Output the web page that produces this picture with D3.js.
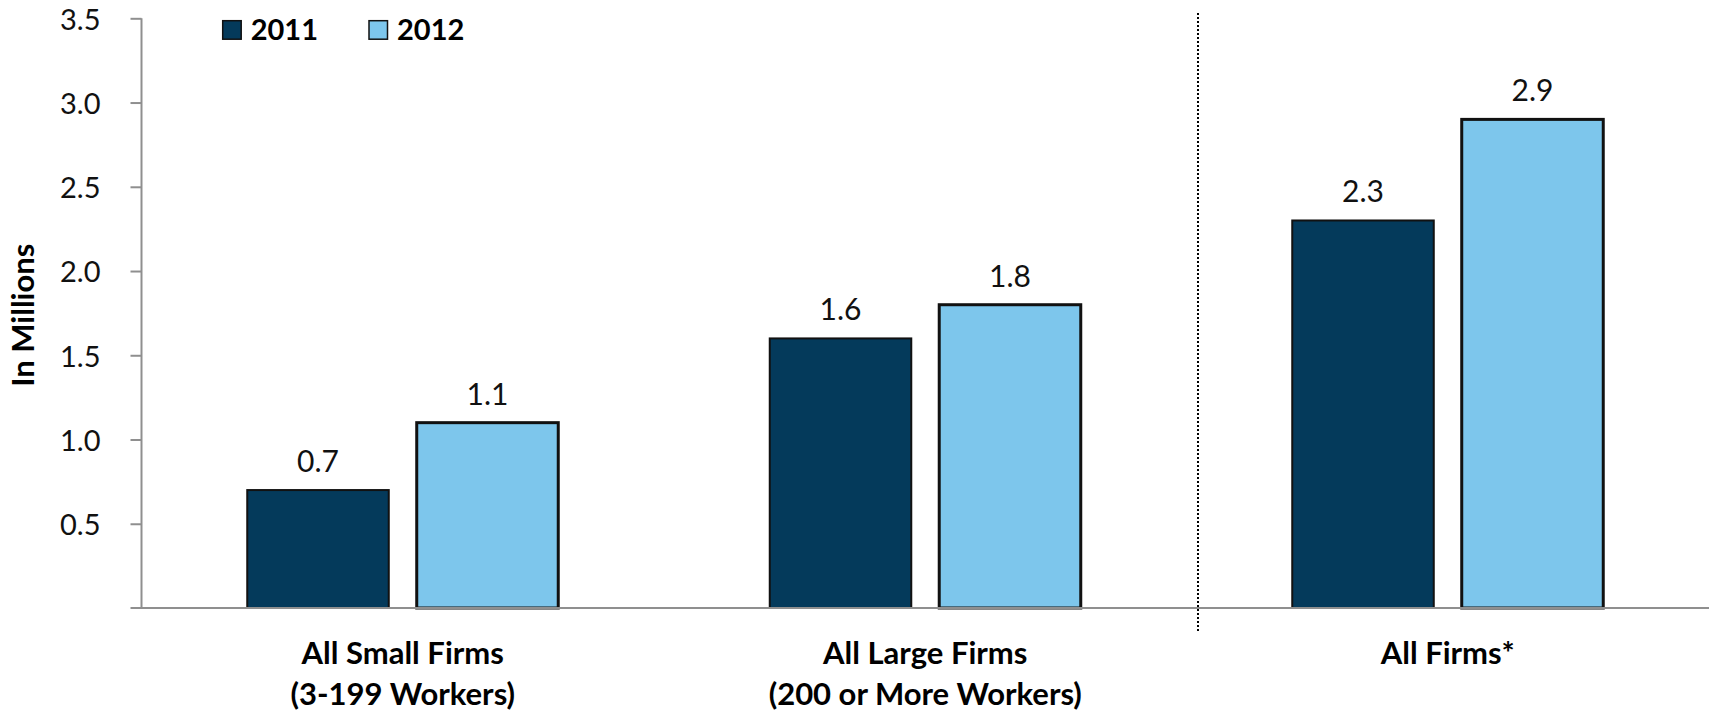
<!DOCTYPE html>
<html>
<head>
<meta charset="utf-8">
<script src="https://cdn.jsdelivr.net/npm/d3@7"></script>
<style>
  html, body { margin: 0; padding: 0; background: #fff; }
  svg { display: block; font-family: Lato, "Open Sans", sans-serif; }
</style>
</head>
<body>
<svg id="chart" width="1710" height="714"></svg>
<script>
// Firm groups (two-line labels) and yearly values, in millions
const categories = ["All Small Firms", "All Large Firms", "All Firms*"];
const categorySubLabels = ["(3-199 Workers)", "(200 or More Workers)", ""];
const years = ["2011", "2012"];
const values2011 = [0.7, 1.6, 2.3];
const values2012 = [1.1, 1.8, 2.9];
const yTicks = [0.5, 1.0, 1.5, 2.0, 2.5, 3.0, 3.5];

const colors = { "2011": "#043a5b", "2012": "#7dc6ec" };
const strokeW = { "2011": 2, "2012": 3 };

const svg = d3.select("#chart");
const W = 1710, H = 714;
const m = { left: 141.5, right: 1, top: 18.3, bottom: 106 };

const x0 = d3.scaleBand().domain(categories).range([m.left, W - m.right]).padding(0);
const groupW = 311;
const x1 = d3.scaleBand().domain(years)
  .range([x0.bandwidth() / 2 - groupW / 2, x0.bandwidth() / 2 + groupW / 2])
  .paddingInner(0.165);
const y = d3.scaleLinear().domain([0, 3.5]).range([H - m.bottom, m.top]);

const rows = categories.map((c, i) => ({
  cat: c, sub: categorySubLabels[i],
  vals: [{ year: "2011", v: values2011[i] }, { year: "2012", v: values2012[i] }]
}));

// Y axis
const yAxis = svg.append("g")
  .attr("transform", `translate(${m.left},0)`)
  .call(d3.axisLeft(y).tickValues(yTicks).tickFormat(d3.format(".1f")).tickSize(11).tickSizeOuter(0).tickPadding(30));
yAxis.select(".domain").attr("stroke", "#8f8f8f").attr("stroke-width", 2)
  .attr("d", `M0,${y(3.5)}V${y(0)}`);
yAxis.selectAll(".tick line").attr("stroke", "#8f8f8f").attr("stroke-width", 2);
yAxis.selectAll(".tick text").attr("font-size", 29).attr("fill", "#111")
  .attr("dy", "0.37em")
  .attr("font-family", "Lato, sans-serif");

// Y axis title
svg.append("text")
  .attr("transform", `translate(34,${(y(3.5) + y(0)) / 2 + 2}) rotate(-90)`)
  .attr("text-anchor", "middle")
  .attr("font-size", 31).attr("font-weight", 700).attr("fill", "#000")
  .text("In Millions");

// Bars
const groups = svg.append("g").selectAll("g").data(rows).join("g")
  .attr("transform", d => `translate(${x0(d.cat)},0)`);

groups.selectAll("rect").data(d => d.vals).join("rect")
  .attr("x", d => x1(d.year))
  .attr("y", d => y(d.v))
  .attr("width", x1.bandwidth())
  .attr("height", d => y(0) - y(d.v))
  .attr("fill", d => colors[d.year])
  .attr("stroke", "#111")
  .attr("stroke-width", d => strokeW[d.year]);

groups.selectAll("text.val").data(d => d.vals).join("text")
  .attr("class", "val")
  .attr("x", d => x1(d.year) + x1.bandwidth() / 2)
  .attr("y", d => y(d.v) - 18)
  .attr("text-anchor", "middle")
  .attr("font-size", 30).attr("fill", "#111")
  .text(d => d3.format(".1f")(d.v));

// Baseline (category axis)
svg.append("line")
  .attr("x1", m.left - 11).attr("x2", W - m.right)
  .attr("y1", y(0)).attr("y2", y(0))
  .attr("stroke", "#8f8f8f").attr("stroke-width", 2);

// Category labels
const catLabels = svg.append("g").selectAll("text").data(rows).join("text")
  .attr("text-anchor", "middle")
  .attr("font-size", 31).attr("font-weight", 700).attr("fill", "#000");
catLabels.append("tspan")
  .attr("x", d => x0(d.cat) + x0.bandwidth() / 2)
  .attr("y", y(0) + 56)
  .text(d => d.cat);
catLabels.append("tspan")
  .attr("x", d => x0(d.cat) + x0.bandwidth() / 2)
  .attr("y", y(0) + 97)
  .text(d => d.sub);

// Dotted separator before the all-firms group
const sepX = x0("All Firms*") + 11.5;
svg.append("line")
  .attr("x1", sepX).attr("x2", sepX)
  .attr("y1", 13).attr("y2", y(0) + 23)
  .attr("stroke", "#000").attr("stroke-width", 2)
  .attr("stroke-dasharray", "2,2");

// Legend
const legendX = [222.7, 369];
const legend = svg.append("g").selectAll("g").data(years).join("g")
  .attr("transform", (d, i) => `translate(${legendX[i]},20.7)`);
legend.append("rect")
  .attr("width", 18.5).attr("height", 18.5)
  .attr("fill", d => colors[d]).attr("stroke", "#111").attr("stroke-width", 1.5);
legend.append("text")
  .attr("x", 28).attr("y", 19)
  .attr("font-size", 29).attr("font-weight", 700).attr("fill", "#000")
  .text(d => d);
</script>
</body>
</html>
